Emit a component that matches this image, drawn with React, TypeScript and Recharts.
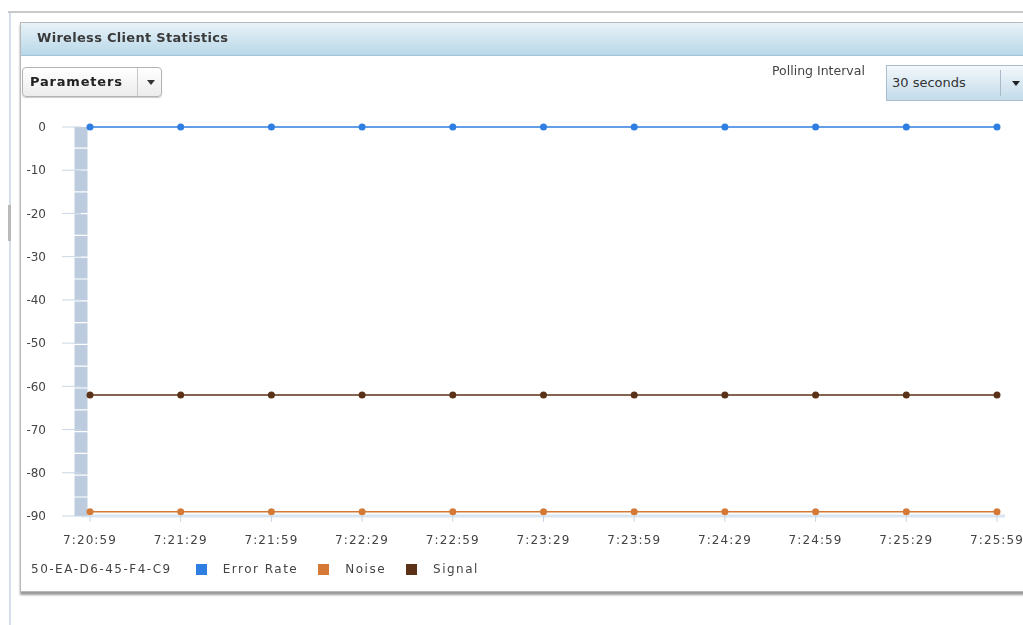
import React from "react";
import { LineChart, Line, XAxis, YAxis } from "recharts";

const times = ["7:20:59", "7:21:29", "7:21:59", "7:22:29", "7:22:59", "7:23:29", "7:23:59", "7:24:29", "7:24:59", "7:25:29", "7:25:59"];
const errorRate = [0, 0, 0, 0, 0, 0, 0, 0, 0, 0, 0];
const noise = [-89, -89, -89, -89, -89, -89, -89, -89, -89, -89, -89];
const signal = [-62, -62, -62, -62, -62, -62, -62, -62, -62, -62, -62];
const yTicks = [0, -10, -20, -30, -40, -50, -60, -70, -80, -90];
const clientId = "50-EA-D6-45-F4-C9";
const seriesNames = ["Error Rate", "Noise", "Signal"];

const data = times.map((t, i) => ({ time: t, errorRate: errorRate[i], noise: noise[i], signal: signal[i] }));

const COLORS = { errorRate: "#2f7fe2", noise: "#d47a36", signal: "#5b3217" };
const legendColors = [COLORS.errorRate, COLORS.noise, COLORS.signal];
const FONT = "'DejaVu Sans', Verdana, sans-serif";

export default function App() {
  const abs = (s: React.CSSProperties): React.CSSProperties => ({ position: "fixed", ...s });
  return (
    <div style={{ position: "relative", width: 1023, height: 625, fontFamily: FONT }}>
      {/* outer frame */}
      <div style={abs({ left: 0, top: 0, width: 1023, height: 625, background: "#fff" })} />
      <div style={abs({ left: 8, top: 11, width: 1015, height: 2, background: "#c9c9c9" })} />
      <div style={abs({ left: 9, top: 13, width: 2, height: 612, background: "#d5e0ea" })} />
      <div style={abs({ left: 8, top: 205, width: 3, height: 36, background: "#b9b9b9" })} />
      {/* panel */}
      <div
        style={abs({
          left: 20,
          top: 22,
          width: 1020,
          height: 568,
          border: "1px solid #b8b8b8",
          background: "#fff",
          boxShadow: "0 3px 2px #9a9a9a",
        })}
      />
      <div
        style={abs({
          left: 21,
          top: 23,
          width: 1010,
          height: 32,
          background: "linear-gradient(#e8f2f8, #b9d8e8)",
          borderBottom: "1px solid #9fc4d8",
        })}
      />
      <div
        style={abs({
          left: 37,
          top: 30,
          fontSize: 13,
          fontWeight: "bold",
          color: "#3a3a3a",
          letterSpacing: 0.3,
          whiteSpace: "nowrap",
        })}
      >
        Wireless Client Statistics
      </div>
      {/* chart */}
      <div style={abs({ left: 0, top: 0 })}>
        <LineChart width={1023} height={625} data={data} margin={{ top: 127, right: 18, bottom: 79, left: 21 }}>
          <XAxis
            dataKey="time"
            scale="point"
            padding={{ left: 9, right: 8 }}
            height={30}
            axisLine={{ stroke: "#d9e5f1", strokeWidth: 3 }}
            tickLine={{ stroke: "#c3d5e8" }}
            tickSize={6}
            tickMargin={13}
            tick={{ fill: "#444", fontSize: 12, fontFamily: FONT, letterSpacing: 1.1 }}
            interval={0}
          />
          <YAxis
            type="number"
            domain={[-90, 0]}
            ticks={yTicks}
            width={60}
            tickSize={19}
            tickMargin={16}
            axisLine={{ stroke: "#bccbdd", strokeWidth: 13, strokeDasharray: "20.6 1.2" }}
            tickLine={{ stroke: "#c9d6e4" }}
            tick={{ fill: "#444", fontSize: 12, fontFamily: FONT }}
            interval={0}
          />
          <Line
            dataKey="errorRate"
            name="Error Rate"
            stroke={COLORS.errorRate}
            strokeWidth={1.6}
            dot={{ r: 3.5, fill: COLORS.errorRate, stroke: COLORS.errorRate, strokeWidth: 0 }}
            isAnimationActive={false}
          />
          <Line
            dataKey="noise"
            name="Noise"
            stroke={COLORS.noise}
            strokeWidth={1.6}
            dot={{ r: 3.5, fill: COLORS.noise, stroke: COLORS.noise, strokeWidth: 0 }}
            isAnimationActive={false}
          />
          <Line
            dataKey="signal"
            name="Signal"
            stroke={COLORS.signal}
            strokeWidth={1.6}
            dot={{ r: 3.5, fill: COLORS.signal, stroke: COLORS.signal, strokeWidth: 0 }}
            isAnimationActive={false}
          />
        </LineChart>
      </div>
      {/* Parameters button */}
      <div
        style={abs({
          left: 22,
          top: 67,
          width: 138,
          height: 28,
          border: "1px solid #b3b3b3",
          borderRadius: 4,
          background: "linear-gradient(#ffffff, #ececec)",
          boxShadow: "0 1px 1px #ccc",
        })}
      >
        <div style={{ position: "absolute", left: 7, top: 6, fontSize: 13, fontWeight: "bold", color: "#222", letterSpacing: 0.8 }}>Parameters</div>
        <div style={{ position: "absolute", left: 114, top: 0, width: 1, height: 28, background: "#c8c8c8" }} />
        <div
          style={{
            position: "absolute",
            left: 124,
            top: 12,
            width: 0,
            height: 0,
            borderLeft: "4px solid transparent",
            borderRight: "4px solid transparent",
            borderTop: "5px solid #333",
          }}
        />
      </div>
      {/* Polling interval */}
      <div style={abs({ left: 772, top: 63, fontSize: 12.5, color: "#444", whiteSpace: "nowrap" })}>Polling Interval</div>
      <div
        style={abs({
          left: 886,
          top: 65,
          width: 150,
          height: 34,
          border: "1px solid #a9bfcf",
          background: "linear-gradient(#f3f8fb, #c3dbea)",
        })}
      >
        <div style={{ position: "absolute", left: 5, top: 9, fontSize: 13, color: "#333", whiteSpace: "nowrap" }}>30 seconds</div>
        <div style={{ position: "absolute", left: 113, top: 4, width: 1, height: 26, background: "#a9b9c6" }} />
        <div
          style={{
            position: "absolute",
            left: 125,
            top: 15,
            width: 0,
            height: 0,
            borderLeft: "4px solid transparent",
            borderRight: "4px solid transparent",
            borderTop: "5px solid #222",
          }}
        />
      </div>
      {/* legend */}
      <div style={abs({ left: 31, top: 562, display: "flex", alignItems: "center", fontSize: 12, color: "#444", letterSpacing: 1.5, whiteSpace: "nowrap" })}>
        <span style={{ marginRight: 24 }}>{clientId}</span>
        {seriesNames.map((n, i) => (
          <span key={n} style={{ display: "flex", alignItems: "center", marginRight: 20 }}>
            <span style={{ display: "inline-block", width: 11, height: 11, background: legendColors[i], marginRight: 16 }} />
            <span>{n}</span>
          </span>
        ))}
      </div>
    </div>
  );
}
